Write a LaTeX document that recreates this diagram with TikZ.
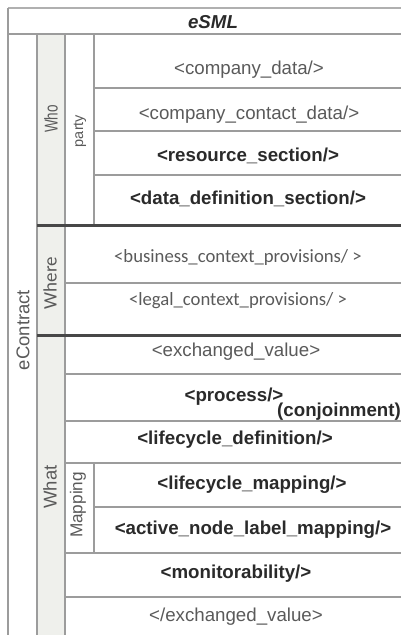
\documentclass[tikz,border=0pt]{standalone}
\usepackage{fontspec}
\setmainfont{Liberation Sans}
\newfontfamily\calib{Carlito}
\definecolor{thin}{HTML}{9C9C9C}
\definecolor{thick}{HTML}{474747}
\definecolor{colshade}{HTML}{EFF0EC}
\definecolor{txt}{HTML}{5A5A5A}
\definecolor{txtb}{HTML}{2A2A2A}
\begin{document}
\begin{tikzpicture}[x=1pt,y=-1pt,
  thinline/.style={draw=thin,line width=1.5pt},
  thickline/.style={draw=thick,line width=3pt},
  rowtext/.style={inner sep=0pt,text=txt,font=\fontsize{18.7}{22}\selectfont},
  rowbold/.style={inner sep=0pt,text=txtb,font=\fontsize{18.7}{22}\selectfont\bfseries},
  rowcal/.style={inner sep=0pt,text=txt,font=\calib\fontsize{18.7}{22}\selectfont},
  sidelabel/.style={inner sep=0pt,text=txt,rotate=90,font=\fontsize{18.5}{22}\selectfont}
]
\useasboundingbox (0,0) rectangle (401,635);
\begin{scope}
\clip (0,0) rectangle (401,635);
% shading of the Who/Where/What column
\fill[fill=colshade] (37,34) rectangle (65,635);
% frame
\draw[draw=thin!80,line width=1.5pt] (8,8) -- (401,8);
\draw[thinline] (8,34) -- (401,34);
\draw[thinline] (8,8) -- (8,635);
\draw[thinline] (37,34) -- (37,635);
\draw[thinline] (65,34) -- (65,635);
\draw[thinline] (94,34) -- (94,225);
\draw[thinline] (94,463) -- (94,553);
% Who rows
\draw[thinline] (94,88) -- (401,88);
\draw[thinline] (94,131) -- (401,131);
\draw[thinline] (94,175) -- (401,175);
% Where rows
\draw[thinline] (65,283) -- (401,283);
% What rows
\draw[thinline] (65,374) -- (401,374);
\draw[thinline] (65,421) -- (401,421);
\draw[thinline] (65,463) -- (401,463);
\draw[thinline] (94,507) -- (401,507);
\draw[thinline] (65,553) -- (401,553);
\draw[thinline] (65,597) -- (401,597);
% thick separators
\draw[thickline] (37,225) -- (401,225);
\draw[thickline] (37,335) -- (401,335);

% texts
\node[inner sep=0pt,text=txtb,font=\fontsize{18.7}{22}\selectfont\bfseries\itshape] (esml) at (213,22) {eSML};
\node[sidelabel] (econtract) at (23,330) {eContract};
\node[sidelabel,xscale=0.73] (who) at (51,119) {Who};
\node[sidelabel,font=\fontsize{14.5}{17}\selectfont] (party) at (80,131) {party};
\node[sidelabel,font=\calib\fontsize{19}{22}\selectfont] (where) at (50,283) {Where};
\node[sidelabel] (what) at (50,487) {What};
\node[sidelabel,font=\fontsize{17.2}{20}\selectfont] (mapping) at (78,505) {Mapping};

\node[rowtext] (cd) at (249,70) {<company\_data/>};
\node[rowtext] (ccd) at (249,115) {<company\_contact\_data/>};
\node[rowbold] (rs) at (248,156) {<resource\_section/>};
\node[rowbold] (dds) at (248,199) {<data\_definition\_section/>};
\node[rowcal] (bcp) at (238,258) {<business\_context\_provisions/ >};
\node[rowcal] (lcp) at (238,301) {<legal\_context\_provisions/ >};
\node[rowtext] (ev) at (236,352) {<exchanged\_value>};
\node[rowbold] (proc) at (234,397) {<process/>};
\node[rowbold,anchor=west] (conj) at (277,412) {(conjoinment)};
\node[rowbold] (lcd) at (235,440) {<lifecycle\_definition/>};
\node[rowbold] (lcm) at (252,485) {<lifecycle\_mapping/>};
\node[rowbold] (anlm) at (253,530) {<active\_node\_label\_mapping/>};
\node[rowbold] (mon) at (236,574) {<monitorability/>};
\node[rowtext] (evc) at (236,617) {</exchanged\_value>};
\end{scope}
\end{tikzpicture}
\end{document}
